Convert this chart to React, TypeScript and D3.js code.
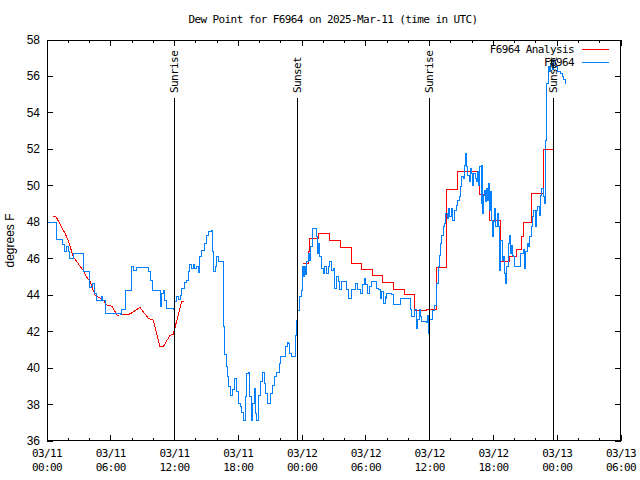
import React from 'react';
import * as d3 from 'd3';

// hours after 2025-03-11 00:00 UTC, dew point in deg F
const observed: [number, number][] = [
  [0, 48.0], [0.91, 48.0], [0.92, 47.05], [1.47, 47.05], [1.5, 46.8], [1.6, 46.4], [1.75, 46.4],
  [1.85, 46.65], [2.01, 46.4], [2.16, 46.0], [2.48, 46.0], [2.5, 46.3], [3.23, 46.3], [3.42, 45.3],
  [3.89, 45.3], [3.98, 44.4], [4.2, 44.47], [4.32, 44.65], [4.51, 44.1], [4.61, 43.73], [4.92, 43.73],
  [5.14, 43.95], [5.24, 43.73], [5.46, 43.0], [6.87, 42.95], [7.02, 43.2], [7.34, 43.64], [7.43, 44.25],
  [7.81, 44.28], [7.96, 45.56], [8.18, 45.38], [8.43, 45.5], [9.22, 45.5], [9.53, 45.3], [9.75, 44.83],
  [9.94, 44.28], [10.57, 44.25], [10.69, 43.37], [10.79, 44.1], [10.94, 44.28], [11.1, 43.73],
  [11.26, 43.28], [11.88, 43.22], [12.01, 43.64], [12.14, 43.95], [12.39, 43.77], [12.57, 44.0],
  [12.66, 44.38], [12.89, 44.69], [13.14, 44.83], [13.3, 45.29], [13.45, 45.66], [13.61, 45.45],
  [13.77, 45.66], [13.92, 45.47], [14.08, 45.56], [14.24, 45.23], [14.39, 46.11], [14.55, 46.47],
  [14.77, 46.84], [14.96, 47.3], [15.19, 47.48], [15.43, 47.57], [15.55, 46.38], [15.71, 45.29],
  [15.81, 45.56], [15.96, 46.1], [16.12, 45.84], [16.53, 45.84], [16.59, 44.47], [16.65, 42.27],
  [16.74, 40.72], [16.9, 40.08], [17.0, 39.53], [17.12, 38.98], [17.28, 38.47], [17.47, 38.8],
  [17.68, 39.45], [17.84, 38.72], [18.0, 38.07], [18.16, 37.89], [18.31, 37.57], [18.47, 37.15],
  [18.63, 38.43], [18.79, 39.7], [18.94, 39.75], [19.04, 38.43], [19.2, 37.15], [19.35, 38.07],
  [19.51, 38.89], [19.6, 37.52], [19.73, 37.15], [19.88, 38.52], [20.04, 39.25], [20.23, 39.75],
  [20.42, 39.16], [20.6, 38.6], [20.76, 38.07], [20.98, 38.6], [21.2, 39.07], [21.39, 39.53],
  [21.6, 39.75], [21.83, 40.26], [22.01, 40.63], [22.3, 40.63], [22.42, 41.17], [22.58, 41.39],
  [22.74, 41.35], [22.86, 40.8], [23.02, 40.63], [23.3, 40.63], [23.4, 41.8], [23.49, 42.6],
  [23.58, 43.18], [23.8, 43.91], [23.96, 44.28], [24.05, 45.6], [24.12, 45.05], [24.2, 45.57],
  [24.3, 45.11], [24.43, 45.84], [24.58, 46.3], [24.68, 45.93], [24.8, 46.66], [24.96, 47.67],
  [25.27, 47.67], [25.35, 47.2], [25.46, 46.3], [25.55, 46.84], [25.65, 46.11], [25.84, 45.47],
  [26.0, 45.2], [26.15, 45.57], [26.3, 45.2], [26.46, 45.57], [26.62, 45.84], [26.77, 45.38],
  [26.93, 45.47], [27.09, 44.38], [27.25, 45.02], [27.4, 44.75], [27.56, 44.3], [27.72, 44.75],
  [28.03, 44.75], [28.19, 44.3], [28.35, 43.84], [28.57, 43.84], [28.66, 44.3], [28.97, 44.3],
  [29.06, 44.66], [29.2, 44.3], [29.45, 44.11], [29.69, 44.57], [29.91, 44.94], [30.0, 44.57],
  [30.13, 44.11], [30.32, 44.48], [30.54, 44.75], [30.85, 44.75], [30.99, 44.38], [31.15, 44.3],
  [31.33, 43.84], [31.49, 44.2], [31.64, 43.55], [31.8, 43.92], [31.95, 43.84], [31.97, 44.11],
  [32.42, 44.02], [32.58, 43.47], [33.05, 43.47], [33.21, 43.84], [33.99, 43.84], [34.15, 43.2],
  [34.3, 42.82], [34.62, 43.2], [34.72, 42.18], [34.85, 42.64], [35.0, 43.2], [35.12, 42.82],
  [35.25, 42.55], [35.72, 42.49], [35.8, 42.91], [35.88, 41.9], [36.0, 42.64], [36.28, 43.18],
  [36.5, 43.46], [36.6, 43.83], [36.66, 44.65], [36.81, 45.56], [36.91, 46.2], [37.03, 46.84],
  [37.15, 47.29], [37.28, 47.75], [37.44, 47.93], [37.53, 48.48], [37.65, 48.2], [37.78, 48.75],
  [37.9, 48.3], [38.03, 48.75], [38.16, 48.11], [38.32, 48.66], [38.48, 48.93], [38.63, 49.2],
  [38.79, 49.39], [38.92, 49.95], [39.04, 50.5], [39.16, 50.4], [39.29, 51.14], [39.39, 51.78],
  [39.48, 51.05], [39.6, 50.59], [39.73, 50.23], [39.85, 50.96], [39.95, 50.68], [40.0, 50.04],
  [40.17, 50.68], [40.29, 50.4], [40.42, 50.23], [40.51, 50.77], [40.64, 50.04], [40.73, 51.05],
  [40.83, 49.04], [40.92, 51.14], [41.0, 48.48], [41.08, 49.49], [41.17, 49.77], [41.27, 49.13],
  [41.36, 49.86], [41.45, 49.22], [41.55, 50.13], [41.64, 48.66], [41.74, 49.68], [41.83, 48.11],
  [41.92, 47.2], [42.05, 48.02], [42.14, 48.75], [42.23, 47.75], [42.36, 48.48], [42.48, 47.75],
  [42.58, 45.38], [42.71, 47.02], [42.83, 45.93], [42.93, 46.11], [43.05, 45.2], [43.15, 44.65],
  [43.24, 45.56], [43.37, 46.84], [43.49, 47.29], [43.59, 46.29], [43.71, 46.75], [43.8, 46.2],
  [43.93, 46.11], [44.02, 45.56], [44.43, 45.56], [44.56, 46.29], [44.68, 46.29], [44.81, 46.48],
  [44.93, 45.47], [45.06, 46.38], [45.18, 46.84], [45.31, 46.66], [45.43, 47.2], [45.56, 47.75],
  [45.68, 48.3], [45.81, 48.66], [45.93, 47.75], [46.06, 48.66], [46.18, 48.84], [46.31, 48.39],
  [46.43, 49.49], [46.56, 49.86], [46.68, 49.39], [46.79, 49.04], [46.91, 52.5], [47.0, 55.62],
  [47.15, 56.57], [47.28, 56.26], [47.41, 56.72], [47.53, 56.39], [47.69, 56.9], [47.84, 56.53],
  [48.0, 56.26], [48.19, 56.26], [48.35, 56.17], [48.5, 55.99], [48.63, 55.84], [48.76, 55.58],
];

// analysis, first day (smooth)
const analysisDay1: [number, number][] = [
  [0.56, 48.34], [0.85, 48.3], [1.69, 47.4], [2.0, 47.0], [2.47, 46.1], [3.36, 45.4], [3.73, 45.0],
  [4.05, 44.74], [4.52, 44.0], [4.83, 43.9], [5.3, 43.73], [5.62, 43.46], [6.09, 43.4], [6.61, 42.9],
  [7.81, 42.97], [8.75, 43.33], [9.53, 42.73], [10.0, 42.64], [10.63, 41.17], [10.94, 41.17],
  [11.57, 41.8], [11.88, 41.85], [12.14, 42.45], [12.67, 43.64], [12.89, 43.68],
];

// analysis, second day (hourly steps)
const analysisDay2: [number, number][] = [
  [24.1, 45.75], [24.58, 46.4], [24.66, 47.1], [25.5, 47.4], [26.6, 47.0], [27.6, 46.6],
  [28.6, 45.75], [29.6, 45.42], [30.6, 45.06], [31.6, 44.69], [32.6, 44.3], [33.6, 44.02],
  [34.6, 43.15], [35.7, 43.22], [36.6, 45.5], [37.6, 49.8], [38.6, 50.77], [40.67, 49.5],
  [41.67, 48.07], [42.62, 45.87], [43.5, 46.14], [44.2, 46.48], [44.65, 47.2], [44.8, 48.0],
  [45.6, 49.6], [46.7, 52.0], [47.6, 52.0],
];

const sunLabels = ['Sunrise', 'Sunset', 'Sunrise', 'Sunset'];
const sunHours = [11.95, 23.52, 35.94, 47.6];

const yTicks = [36, 38, 40, 42, 44, 46, 48, 50, 52, 54, 56, 58];
const legendNames = ['F6964 Analysis', 'F6964'];

const t0 = Date.UTC(2025, 2, 11, 0, 0);
const toDate = (h: number) => new Date(t0 + h * 3600000);

const mono = '"DejaVu Sans Mono", monospace';
const sans = '"Liberation Sans", Arial, sans-serif';
const RED = '#ff0000';
const BLUE = '#0080ff';

export default function App() {
  const left = 47, right = 621, top = 40, bottom = 441;

  const x = d3.scaleUtc().domain([toDate(0), toDate(54)]).range([left, right]);
  const y = d3.scaleLinear().domain([36, 58]).range([bottom, top]);

  const majorX = x.ticks(d3.utcHour.every(6)!);
  const minorX = x.ticks(d3.utcHour.every(2)!).filter(d => d.getUTCHours() % 6 !== 0);
  const fmtDay = d3.utcFormat('%m/%d');
  const fmtTime = d3.utcFormat('%H:%M');

  const lin = d3.line<[number, number]>().x(d => x(toDate(d[0]))).y(d => y(d[1]));
  const step = d3.line<[number, number]>().x(d => x(toDate(d[0]))).y(d => y(d[1])).curve(d3.curveStepAfter);

  const txt = { fontFamily: mono, fontSize: 11, letterSpacing: '-0.6px' } as React.CSSProperties;

  return (
    <svg width={640} height={480} style={{ position: 'absolute', left: 0, top: 0, background: '#fff' }}>
      <rect x={0} y={0} width={640} height={480} fill="#fff" />
      <text x={333} y={19} textAnchor="middle" dominantBaseline="central" style={txt}>
        Dew Point for F6964 on 2025-Mar-11 (time in UTC)
      </text>

      {/* y ticks */}
      {yTicks.map(v => (
        <g key={v} shapeRendering="crispEdges">
          <line x1={left} x2={left + 6} y1={y(v)} y2={y(v)} stroke="#000" />
          <line x1={right - 6} x2={right} y1={y(v)} y2={y(v)} stroke="#000" />
          <text x={40} y={y(v)} textAnchor="end" dominantBaseline="central"
            style={{ fontFamily: sans, fontSize: 12 }}>{v}</text>
        </g>
      ))}
      <text transform={`translate(10,${(top + bottom) / 2}) rotate(-90)`} textAnchor="middle"
        dominantBaseline="central" style={{ fontFamily: sans, fontSize: 12 }}>degrees F</text>

      {/* x ticks */}
      {majorX.map(d => (
        <g key={+d}>
          <line x1={x(d)} x2={x(d)} y1={bottom} y2={bottom - 6} stroke="#000" shapeRendering="crispEdges" />
          <line x1={x(d)} x2={x(d)} y1={top} y2={top + 6} stroke="#000" shapeRendering="crispEdges" />
          <text x={x(d)} y={453} textAnchor="middle" dominantBaseline="central" style={txt}>{fmtDay(d)}</text>
          <text x={x(d)} y={467} textAnchor="middle" dominantBaseline="central" style={txt}>{fmtTime(d)}</text>
        </g>
      ))}
      {minorX.map(d => (
        <g key={+d} shapeRendering="crispEdges">
          <line x1={x(d)} x2={x(d)} y1={bottom} y2={bottom - 3} stroke="#000" />
          <line x1={x(d)} x2={x(d)} y1={top} y2={top + 3} stroke="#000" />
        </g>
      ))}

      {/* series */}
      <g shapeRendering="crispEdges" fill="none">
        <path d={lin(analysisDay1) ?? ''} stroke={RED} strokeWidth={1} />
        <path d={step(analysisDay2) ?? ''} stroke={RED} strokeWidth={1} />
        <path d={step(observed) ?? ''} stroke={BLUE} strokeWidth={1} />
      </g>

      {/* sunrise / sunset */}
      {sunHours.map((h, i) => {
        const sx = Math.round(x(toDate(h))) + 0.5;
        return (
          <g key={i}>
            <line x1={sx} x2={sx} y1={98} y2={bottom} stroke="#000" shapeRendering="crispEdges" />
            <text transform={`translate(${sx},93) rotate(-90)`} dominantBaseline="central" style={txt}>
              {sunLabels[i]}
            </text>
          </g>
        );
      })}

      {/* legend */}
      {legendNames.map((name, i) => (
        <g key={name}>
          <text x={574} y={49 + i * 13} textAnchor="end" dominantBaseline="central" style={txt}>{name}</text>
          <line x1={582} x2={609} y1={49.5 + i * 13} y2={49.5 + i * 13} stroke={i === 0 ? RED : BLUE}
            shapeRendering="crispEdges" />
        </g>
      ))}

      <rect x={left + 0.5} y={top + 0.5} width={right - left - 1} height={bottom - top - 1}
        fill="none" stroke="#000" shapeRendering="crispEdges" />
    </svg>
  );
}
